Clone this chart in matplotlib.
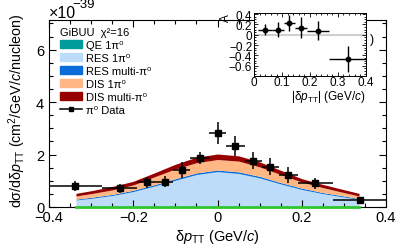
import matplotlib
matplotlib.use("Agg")
import numpy as np
import matplotlib.pyplot as plt
from matplotlib.patches import Patch
from matplotlib.lines import Line2D
from matplotlib.ticker import MultipleLocator

plt.rcParams['font.family'] = ['Liberation Sans', 'DejaVu Sans']
plt.rcParams['mathtext.fontset'] = 'custom'
plt.rcParams['mathtext.rm'] = 'Liberation Sans'
plt.rcParams['mathtext.it'] = 'Liberation Sans:italic'
plt.rcParams['mathtext.bf'] = 'Liberation Sans:bold'

# pi0 data, dsigma/d(dpTT) in 1e-39 cm2/GeV/c/nucleon
bin_edges = [-0.4, -0.275, -0.19, -0.145, -0.105, -0.065, -0.02,
             0.02, 0.065, 0.105, 0.145, 0.19, 0.275, 0.4]
data_y = [0.81, 0.72, 0.94, 0.97, 1.41, 1.88, 2.82, 2.34, 1.76, 1.54, 1.22, 0.90, 0.28]
data_yerr = [0.20, 0.17, 0.22, 0.20, 0.30, 0.23, 0.41, 0.38, 0.32, 0.33, 0.30, 0.22, 0.12]

# GiBUU prediction, per component
model_x = [-0.336, -0.30, -0.25, -0.20, -0.15, -0.10, -0.05, 0.0,
           0.05, 0.10, 0.15, 0.20, 0.25, 0.30, 0.336]
qe_1pi = [0, 0, 0, 0, 0, 0, 0, 0.01, 0.03, 0.01, 0, 0, 0, 0, 0]
res_1pi = [0.27, 0.33, 0.44, 0.59, 0.80, 1.02, 1.24, 1.34, 1.25, 1.10, 0.88, 0.67, 0.51, 0.38, 0.29]
res_multi = [0.03, 0.04, 0.04, 0.05, 0.05, 0.06, 0.06, 0.06, 0.06, 0.06, 0.05, 0.05, 0.04, 0.04, 0.03]
dis_1pi = [0.12, 0.14, 0.17, 0.20, 0.30, 0.37, 0.39, 0.40, 0.41, 0.36, 0.31, 0.23, 0.19, 0.13, 0.10]
dis_multi = [0.10, 0.11, 0.13, 0.14, 0.15, 0.18, 0.21, 0.21, 0.20, 0.19, 0.16, 0.13, 0.12, 0.11, 0.10]

# asymmetry inset
asym_lo = [0.015, 0.065, 0.105, 0.145, 0.19, 0.27]
asym_hi = [0.065, 0.105, 0.145, 0.19, 0.27, 0.40]
asym_y = [0.10, 0.10, 0.23, 0.14, 0.08, -0.46]
asym_yerr = [0.10, 0.14, 0.15, 0.20, 0.18, 0.25]

c_qe = '#009b9b'
c_res1 = '#bcdcfa'
c_resm = '#0a6cd8'
c_dis1 = '#ffb884'
c_dism = '#960000'
c_green = '#2ec82e'

fig = plt.figure(figsize=(4.02, 2.53), dpi=100)
ax = fig.add_axes([0.1219, 0.1779, 0.8383, 0.7391])

x = np.array(model_x)
s0 = np.array(qe_1pi)
s1 = s0 + np.array(res_1pi)
s2 = s1 + np.array(res_multi)
s3 = s2 + np.array(dis_1pi)
s4 = s3 + np.array(dis_multi)
ax.fill_between(x, 0, s0, color=c_qe, lw=0)
ax.fill_between(x, s0, s1, color=c_res1, lw=0)
ax.fill_between(x, s1, s2, color=c_resm, lw=0)
ax.fill_between(x, s2, s3, color=c_dis1, lw=0)
ax.fill_between(x, s3, s4, color=c_dism, lw=0)
ax.plot([x[0], x[-1]], [0, 0], color=c_green, lw=2, zorder=3, clip_on=False)

edges = np.array(bin_edges)
cx = (edges[:-1] + edges[1:]) / 2
hw = (edges[1:] - edges[:-1]) / 2
ax.errorbar(cx, data_y, xerr=hw, yerr=data_yerr, fmt='s', color='black',
            ms=4.3, lw=1.1, capsize=0, zorder=5)

ax.text(0.925, 0.842, ')', transform=fig.transFigure, fontsize=9,
        ha='center', va='center')

ax.set_xlim(-0.4, 0.4)
ax.set_ylim(0, 7.13)
ax.xaxis.set_minor_locator(MultipleLocator(0.05))
ax.yaxis.set_minor_locator(MultipleLocator(0.5))
ax.tick_params(which='both', direction='in', top=True, right=True, labelsize=10.5, width=0.8)
ax.tick_params(which='major', length=5)
ax.tick_params(which='minor', length=2.6)
ax.set_xticks([-0.4, -0.2, 0, 0.2, 0.4])
ax.set_xticklabels(['\u22120.4', '\u22120.2', '0', '0.2', '0.4'])
ax.set_yticks([0, 2, 4, 6])
ax.set_yticklabels(['0', '2', '4', '6'])
ax.tick_params(axis='x', pad=2.5)
for sp in ax.spines.values():
    sp.set_linewidth(0.8)

fig.text(0.1219, 0.929, '\u00d710', fontsize=11.5, ha='left', va='baseline')
fig.text(0.179, 0.968, '\u221239', fontsize=9.5, ha='left', va='baseline')

ax.set_xlabel(r'δ$p_{\rm TT}$ (GeV/$c$)', fontsize=10.5, labelpad=2)
ax.yaxis.set_label_coords(-0.093, 1.04)
ax.set_ylabel(r'dσ/dδ$p_{\rm TT}$ (cm$^{2}$/GeV/$c$/nucleon)', fontsize=10.3,
              ha='right', va='center')

handles = [Patch(color=c_qe), Patch(color=c_res1), Patch(color=c_resm),
           Patch(color=c_dis1), Patch(color=c_dism),
           Line2D([], [], color='black', marker='s', ms=3.5, lw=1.1)]
labels = ['QE 1π\u2070', 'RES 1π\u2070', 'RES multi-π\u2070',
          'DIS 1π\u2070', 'DIS multi-π\u2070', 'π\u2070 Data']
leg = ax.legend(handles, labels, title='GiBUU  χ\u00b2=16', loc='upper left',
                bbox_to_anchor=(0.03, 0.97), frameon=False, fontsize=8,
                title_fontsize=8, alignment='left', handlelength=2.0,
                handleheight=0.7, handletextpad=0.35, labelspacing=0.28,
                borderpad=0.1, borderaxespad=0)

# inset
ins = fig.add_axes([0.6326, 0.6968, 0.2771, 0.2479])
ins.set_facecolor('white')
ins.axhline(0, color='#cfcfcf', lw=1.5, zorder=1)
ax_c = (np.array(asym_lo) + np.array(asym_hi)) / 2
ax_w = (np.array(asym_hi) - np.array(asym_lo)) / 2
ins.errorbar(ax_c, asym_y, xerr=ax_w, yerr=asym_yerr, fmt='o', color='black',
             ms=3.2, lw=1.0, capsize=0, zorder=3)
ins.set_xlim(0, 0.4)
ins.set_ylim(-0.79, 0.42)
ins.xaxis.set_minor_locator(MultipleLocator(0.02))
ins.yaxis.set_minor_locator(MultipleLocator(0.05))
ins.tick_params(which='both', direction='in', top=True, right=True, labelsize=8.5, width=0.6, pad=1.5)
ins.tick_params(axis='x', pad=0.5)
ins.tick_params(which='major', length=3)
ins.tick_params(which='minor', length=1.5)
ins.set_xticks([0, 0.1, 0.2, 0.3, 0.4])
ins.set_xticklabels(['0', '0.1', '0.2', '0.3', '0.4'])
ins.set_yticks([-0.6, -0.4, -0.2, 0, 0.2, 0.4])
ins.set_yticklabels(['\u22120.6', '\u22120.4', '\u22120.2', '0', '0.2', '0.4'])
for sp in ins.spines.values():
    sp.set_linewidth(0.7)
ins.set_xlabel(r'|δ$p_{\rm TT}$| (GeV/$c$)', fontsize=8.5, ha='right')
ins.xaxis.set_label_coords(1.0, -0.2)
ins.set_ylabel('A', fontsize=8.5, ha='right')
ins.yaxis.set_label_coords(-0.2, 1.0)

fig.savefig('out.png', dpi=100)
